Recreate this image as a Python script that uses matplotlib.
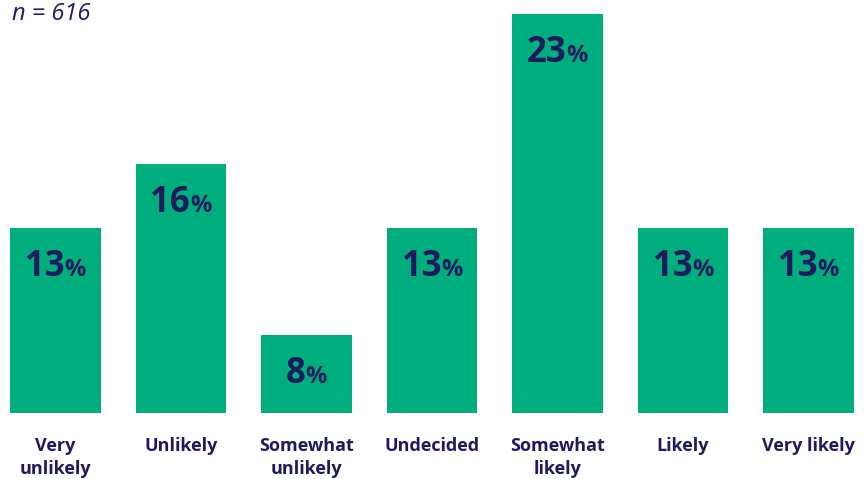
import matplotlib.pyplot as plt
from matplotlib.offsetbox import TextArea, HPacker, AnnotationBbox

categories = ["Very\nunlikely", "Unlikely", "Somewhat\nunlikely", "Undecided",
              "Somewhat\nlikely", "Likely", "Very likely"]
values = [13, 16, 8, 13, 23, 13, 13]
sample_note = "n = 616"

green = "#00ad7d"
navy = "#1d1a5e"

plt.rcParams['font.family'] = ['Open Sans', 'DejaVu Sans']

fig = plt.figure(figsize=(8.67, 4.79), dpi=100)
ax = fig.add_axes([10 / 867, 1 - 413 / 479, 844 / 867, 413 / 479])

x = range(len(values))
ax.bar(x, values, width=0.725, color=green, zorder=2)
ax.set_xlim(-0.3625, len(values) - 1 + 0.3625)
ax.set_ylim(4.35, 23.65)

for side in ax.spines.values():
	side.set_visible(False)
ax.set_yticks([])
ax.set_xticks(list(x))
ax.set_xticklabels(categories, fontsize=13, fontweight="bold", color=navy,
                   linespacing=1.3, va="top")
ax.tick_params(axis="x", length=0, pad=17.5)

# value labels: big number with a smaller percent sign, placed just below the bar top
for xi, v in zip(x, values):
	num = TextArea(str(v), textprops=dict(fontsize=25, fontweight="bold", color=navy))
	pct = TextArea("%", textprops=dict(fontsize=17, fontweight="bold", color=navy))
	box = HPacker(children=[num, pct], align="baseline", pad=0, sep=0)
	ab = AnnotationBbox(box, (xi, v), xybox=(0, -28), xycoords="data",
	                    boxcoords="offset points", frameon=False,
	                    box_alignment=(0.5, 0.5), zorder=3)
	ax.add_artist(ab)

fig.text(12 / 867, 1 - 2 / 479, sample_note, fontsize=17, fontstyle="italic",
         color=navy, va="top", ha="left")

fig.savefig("out.png", dpi=100)
